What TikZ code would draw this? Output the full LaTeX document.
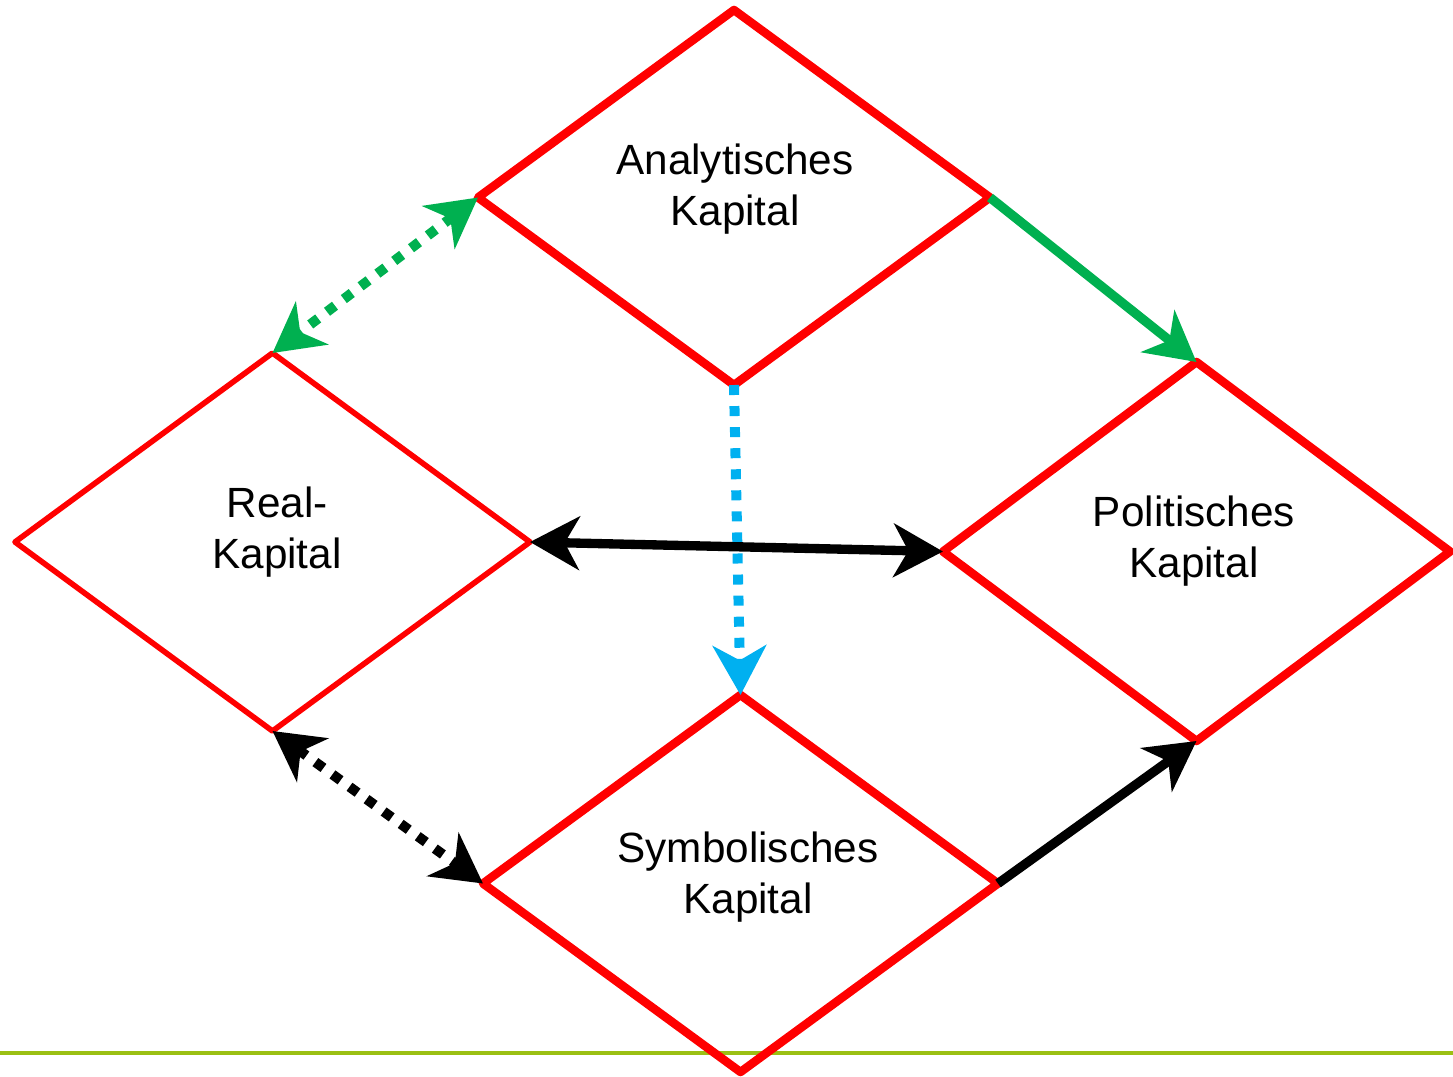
\documentclass[tikz,border=0pt]{standalone}
\usepackage{fontspec}
\setmainfont{Liberation Sans}
\usetikzlibrary{shapes.geometric,arrows.meta}
\definecolor{dred}{RGB}{255,0,0}
\definecolor{agreen}{RGB}{0,176,80}
\definecolor{ablue}{RGB}{0,176,240}
\definecolor{lgreen}{RGB}{155,192,20}
\begin{document}
\begin{tikzpicture}[x=0.75pt,y=-0.75pt,
  capbox/.style={diamond,draw=dred,line width=6.4pt,inner sep=0pt,outer sep=0pt,line join=round},
  thinbox/.style={capbox,line width=4.2pt},
  lab/.style={align=center,font=\fontsize{31.7}{38}\selectfont,inner sep=0pt},
  >={Stealth[length=37pt,width=40pt,inset=11pt]},
  conn/.style={line width=7pt},
  dots/.style={conn,line width=7.5pt,dash pattern=on 7.5pt off 8.3pt}
]
\useasboundingbox (0,0) rectangle (1453,1076);
\draw[lgreen,line width=2.6pt] (0,1053) coordinate (gl) -- (1453,1053) coordinate (gr);
\node[capbox,minimum width=384pt,minimum height=281.25pt] (A) at (734,197.5) {};
\node[thinbox,minimum width=386.25pt,minimum height=283.5pt] (R) at (272.5,542) {};
\node[capbox,minimum width=380.25pt,minimum height=284.25pt] (P) at (1196.5,551.5) {};
\node[capbox,minimum width=386.25pt,minimum height=282.75pt] (S) at (740.5,883.5) {};
\node[lab] (tA) at (735,189) {Analytisches\\Kapital};
\node[lab] (tR) at (277,532) {Real-\\Kapital};
\node[lab] (tP) at (1194,541) {Politisches\\Kapital};
\node[lab] (tS) at (748,877) {Symbolisches\\Kapital};
\draw[dots,agreen,<->] (A.west) -- (R.north);
\draw[conn,agreen,->] (A.east) -- (P.north);
\draw[dots,ablue,->] (A.south) -- (S.north);
\draw[conn,black,<->] (R.east) -- (P.west);
\draw[dots,black,<->] (R.south) -- (S.west);
\draw[conn,black,->] (S.east) -- (P.south);
\end{tikzpicture}
\end{document}
